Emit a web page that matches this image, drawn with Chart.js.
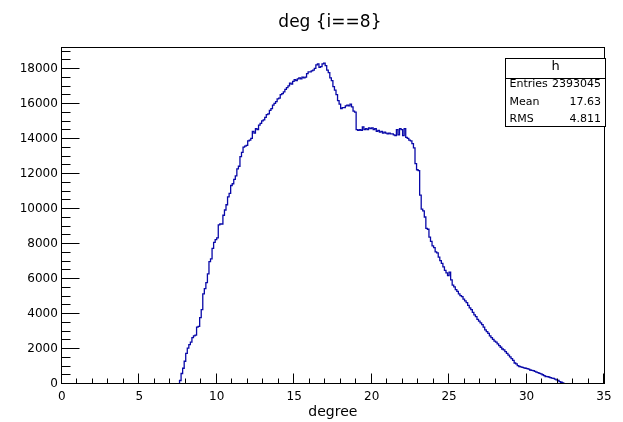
<!DOCTYPE html>
<html>
<head>
<meta charset="utf-8">
<script src="https://cdn.jsdelivr.net/npm/chart.js@4"></script>
<style>
  html, body { margin: 0; padding: 0; background: #fff; }
  #wrap { width: 623px; height: 422px; }
</style>
</head>
<body>
<div id="wrap"><canvas id="c" width="623" height="422"></canvas></div>
<script>
// ---- data ----
const chartTitle = "deg {i==8}";
const xAxisTitle = "degree";
const histName = "h";
const statsLabels = ["Entries", "Mean", "RMS"];
const statsValues = ["2393045", "17.63", "4.811"];
const xMin = 0, xMax = 35;
const yMin = 0, yMax = 19270;
const xTickValues = [0, 5, 10, 15, 20, 25, 30, 35];
const yTickValues = [0, 2000, 4000, 6000, 8000, 10000, 12000, 14000, 16000, 18000];
const xMinorStep = 1;
const yMinorStep = 500;
const binWidth = 0.1;
const firstBinEdge = 7.6;
const binCounts = [
  200, 600, 900, 1300,
  1750, 2050, 2250, 2400, 2650, 2750, 2800, 3250, 3300, 3800,
  4250, 5150, 5450, 5800, 6300, 7000, 7150, 7750, 8100, 8250,
  8350, 9100, 9150, 9150, 9650, 9950, 10250, 10700, 10900, 11350,
  11450, 11700, 11900, 12300, 12450, 13000, 13250, 13550, 13600, 13650,
  13900, 13950, 14050, 14450, 14350, 14600, 14550, 14800, 14900, 15050,
  15100, 15250, 15400, 15450, 15650, 15750, 15950, 16050, 16150, 16300,
  16350, 16550, 16600, 16700, 16850, 16950, 17050, 17200, 17150, 17300,
  17400, 17350, 17450, 17500, 17450, 17550, 17500, 17550, 17750, 17850,
  17850, 17900, 17950, 18050, 18250, 18300, 18100, 18150, 18300, 18350,
  18200, 17950, 17800, 17500, 17350, 17000, 16800, 16550, 16200, 16000,
  15750, 15800, 15800, 15900, 15950, 15900, 16000, 15850, 15600, 15550,
  14550, 14500, 14550, 14500, 14700, 14550, 14600, 14550, 14650, 14600,
  14650, 14550, 14600, 14450, 14500, 14400, 14450, 14350, 14400, 14350,
  14300, 14350, 14300, 14300, 14250, 14200, 14550, 14250, 14600, 14550,
  14200, 14600, 14100, 14050, 13950, 13900, 13750, 13500, 12600, 12250,
  12200, 10800, 10000, 9900, 9550, 8900, 8850, 8400, 8150, 7900,
  7800, 7550, 7500, 7250, 7050, 6900, 6700, 6500, 6350, 6200,
  6400, 5950, 5650, 5550, 5400, 5300, 5150, 5050, 5000, 4850,
  4750, 4650, 4500, 4350, 4250, 4100, 3950, 3850, 3700, 3600,
  3500, 3400, 3250, 3100, 3000, 2900, 2750, 2650, 2550, 2450,
  2400, 2300, 2200, 2100, 2000, 1950, 1850, 1750, 1650, 1550,
  1450, 1350, 1200, 1150, 1050, 1000, 980, 950, 920, 900,
  880, 850, 800, 780, 760, 720, 680, 650, 610, 580,
  530, 480, 430, 420, 400, 370, 340, 320, 280, 240,
  200, 140, 100, 60, 20
];

// ---- build histogram outline points (left bin edges, stepped) ----
const edgeAt = i => Math.round((firstBinEdge + i * binWidth) * 1000) / 1000;
const points = [{ x: xMin, y: 0 }];
binCounts.forEach((v, i) => points.push({ x: edgeAt(i), y: v }));
points.push({ x: edgeAt(binCounts.length), y: 0 });
points.push({ x: xMax, y: 0 });

const FONT = "'DejaVu Sans', sans-serif";

const rootDecor = {
  id: 'rootDecor',
  afterDraw(chart) {
    const ctx = chart.ctx;
    const a = chart.chartArea;
    const xs = chart.scales.x, ys = chart.scales.y;
    const L = Math.round(a.left) - 0.5, R = Math.round(a.right) + 0.5;
    const T = Math.round(a.top) + 0.5, B = Math.round(a.bottom) - 0.5;
    ctx.save();
    ctx.strokeStyle = '#000';
    ctx.lineWidth = 1;
    // frame
    ctx.strokeRect(L, T, R - L, B - T);
    // y ticks (inward)
    ctx.beginPath();
    for (let v = yMin; v <= yMax; v += yMinorStep) {
      const y = Math.round(ys.getPixelForValue(v)) - 0.5;
      const len = yTickValues.includes(v) ? 18 : 9;
      ctx.moveTo(L, y); ctx.lineTo(L + len, y);
    }
    // x ticks (inward)
    for (let v = xMin; v <= xMax; v += xMinorStep) {
      const x = Math.round(xs.getPixelForValue(v)) - 0.5;
      const len = xTickValues.includes(v) ? 10 : 5;
      ctx.moveTo(x, B); ctx.lineTo(x, B - len);
    }
    ctx.stroke();

    // title
    ctx.fillStyle = '#000';
    ctx.font = '17px ' + FONT;
    ctx.textAlign = 'center';
    ctx.textBaseline = 'alphabetic';
    ctx.fillText(chartTitle, (a.left + a.right) / 2 - 3, 27);

    // stats box
    const bx = 505.5, by = 58.5, bw = 100, bh = 68;
    ctx.fillStyle = '#fff';
    ctx.fillRect(bx, by, bw, bh);
    ctx.strokeRect(bx, by, bw, bh);
    ctx.beginPath();
    ctx.moveTo(bx, 78.5); ctx.lineTo(bx + bw, 78.5);
    ctx.stroke();
    ctx.fillStyle = '#000';
    ctx.font = '13px ' + FONT;
    ctx.textAlign = 'center';
    ctx.fillText(histName, bx + bw / 2, 69.5);
    ctx.font = '11px ' + FONT;
    const baselines = [87, 104.5, 122];
    statsLabels.forEach((lab, i) => {
      ctx.textAlign = 'left';
      ctx.fillText(lab, 509.5, baselines[i]);
      ctx.textAlign = 'right';
      ctx.fillText(statsValues[i], 601, baselines[i]);
    });
    ctx.restore();
  }
};

new Chart(document.getElementById('c'), {
  type: 'line',
  data: {
    datasets: [{
      data: points,
      stepped: 'before',
      borderColor: '#0808a8',
      borderWidth: 1.3,
      pointRadius: 0,
      fill: false,
      tension: 0
    }]
  },
  options: {
    responsive: false,
    animation: false,
    events: [],
    layout: { padding: { top: 47, right: 19, left: 0, bottom: 0 } },
    plugins: { legend: { display: false }, tooltip: { enabled: false }, title: { display: false } },
    scales: {
      x: {
        type: 'linear', min: xMin, max: xMax,
        grid: { display: false, drawTicks: false },
        border: { display: false },
        ticks: { padding: 6, color: '#000', font: { family: FONT, size: 12 }, maxRotation: 0, autoSkip: false, callback: v => String(v) },
        afterBuildTicks(s) { s.ticks = xTickValues.map(v => ({ value: v })); },
        title: { display: true, text: xAxisTitle, color: '#000', font: { family: FONT, size: 14 }, padding: { top: 0, bottom: 1 } },
        afterFit(s) { s.height = 38; }
      },
      y: {
        type: 'linear', min: yMin, max: yMax,
        grid: { display: false, drawTicks: false },
        border: { display: false },
        ticks: { padding: 4, color: '#000', autoSkip: false, font: { family: FONT, size: 12 }, callback: v => String(v) },
        afterBuildTicks(s) { s.ticks = yTickValues.map(v => ({ value: v })); },
        afterFit(s) { s.width = 61.8; }
      }
    }
  },
  plugins: [rootDecor]
});
</script>
</body>
</html>
